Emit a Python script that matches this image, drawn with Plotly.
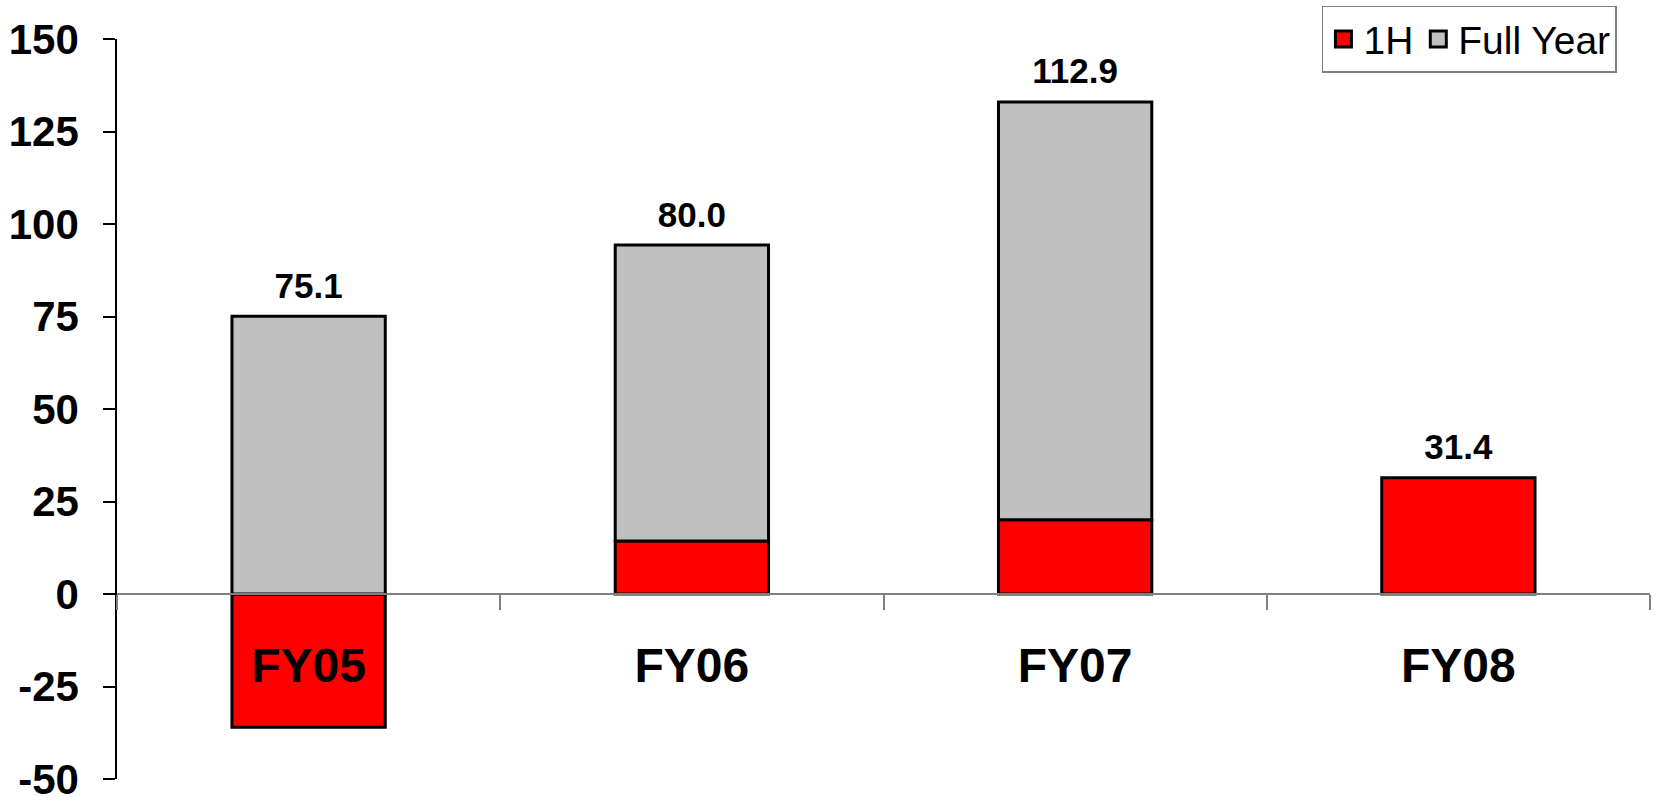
import plotly.graph_objects as go

# Fiscal-year data: first-half result and the full-year figure stacked on it
years = ["FY05", "FY06", "FY07", "FY08"]
first_half = [-36.0, 14.3, 20.1, 31.4]
full_year = [75.1, 80.0, 112.9, None]

y_ticks = [-50, -25, 0, 25, 50, 75, 100, 125, 150]
y_tick_text = ["-50", "-25", "0", "25", "50", "75", "100", "125", "150"]

RED = "#FF0000"
GREY = "#C0C0C0"
FONT = "Liberation Sans"

# value shown above each column and the height of that column's top
label_text = [f"{f:.1f}" if f is not None else f"{h:.1f}" for h, f in zip(first_half, full_year)]
label_y = [max(h, 0) + (f if f is not None else 0) for h, f in zip(first_half, full_year)]

fig = go.Figure()

fig.add_trace(go.Bar(
    x=years, y=first_half, name="1H",
    marker=dict(color=RED, line=dict(color="black", width=3)),
    showlegend=False,
))
fig.add_trace(go.Bar(
    x=years, y=full_year, name="Full Year",
    marker=dict(color=GREY, line=dict(color="black", width=3)),
    showlegend=False,
))

# column totals (invisible marker sets the gap above the column)
fig.add_trace(go.Scatter(
    x=years, y=label_y, text=label_text, mode="markers+text",
    marker=dict(size=14, color="rgba(0,0,0,0)"),
    textposition="top center",
    textfont=dict(family=FONT, size=35, color="black", weight="bold"),
    cliponaxis=False, showlegend=False, hoverinfo="skip",
))

# legend entries with larger swatches
for name, col in [("1H", RED), ("Full Year", GREY)]:
    fig.add_trace(go.Scatter(
        x=[None], y=[None], mode="markers", name=name,
        marker=dict(symbol="square", size=24, color=col,
                    line=dict(color="black", width=3)),
    ))

fig.update_layout(
    width=1664, height=797,
    margin=dict(l=117, r=14, t=39, b=18, autoexpand=False),
    barmode="relative",
    bargap=0.6,
    plot_bgcolor="white",
    paper_bgcolor="white",
    showlegend=True,
    legend=dict(
        orientation="h",
        x=0.786, xanchor="left",
        y=1.045, yanchor="top",
        font=dict(family=FONT, size=39, color="black"),
        bordercolor="#808080", borderwidth=1.5,
        bgcolor="white",
        itemsizing="trace",
    ),
    xaxis=dict(
        type="category",
        categoryorder="array", categoryarray=years,
        range=[-0.5, 3.5],
        anchor="free", position=0.25,
        showline=True, linecolor="#808080", linewidth=1.5,
        ticks="outside", tickson="boundaries", ticklen=15,
        tickcolor="#808080", tickwidth=1.5,
        ticklabelstandoff=30,
        tickfont=dict(family=FONT, size=48, color="black", weight="bold"),
        showgrid=False, zeroline=False,
        automargin=False,
    ),
    yaxis=dict(
        domain=[0, 1],
        range=[-50, 150],
        tickmode="array", tickvals=y_ticks, ticktext=y_tick_text,
        showline=True, linecolor="black", linewidth=1.5,
        ticks="outside", ticklen=12, tickcolor="black", tickwidth=1.5,
        ticklabelstandoff=16,
        ticklabeloverflow="allow",
        tickfont=dict(family=FONT, size=42, color="black", weight="bold"),
        showgrid=False, zeroline=False,
        automargin=False,
    ),
)

fig.write_html("out.html")
